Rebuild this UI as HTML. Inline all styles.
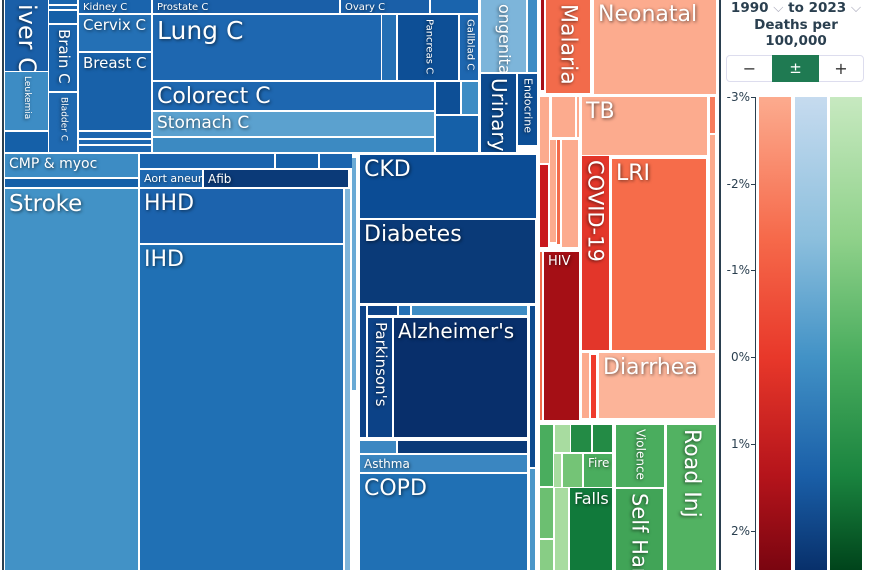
<!DOCTYPE html>
<html><head><meta charset="utf-8">
<style>
body{margin:0;width:870px;height:570px;overflow:hidden;background:#fff;font-family:"DejaVu Sans","Liberation Sans",sans-serif;position:relative}
.c{position:absolute;box-sizing:border-box;overflow:hidden;color:#fff;text-shadow:1px 1px 3px rgba(0,0,0,.6);line-height:1.05}
.c span{position:absolute;left:4px;top:3px;white-space:nowrap}
.c span.v{writing-mode:vertical-rl;left:auto;right:2px;top:4px}
.t{position:absolute;color:#2a3f4f;font-weight:bold;font-size:13.5px;text-align:center;white-space:nowrap}
.tk{position:absolute;font-size:12px;color:#2a3f4f;right:120px;width:40px;text-align:right}
</style></head><body>
<div style="position:absolute;left:2px;top:0;width:2px;height:570px;background:#2a3f4f"></div>
<div style="position:absolute;left:719px;top:0;width:2px;height:570px;background:#2a3f4f"></div>
<div id="tm"></div>
<div class="t" style="left:728px;top:0;width:136px">1990 <span style="color:#aab;font-weight:normal">⌵</span> to 2023 <span style="color:#aab;font-weight:normal">⌵</span></div>
<div class="t" style="left:728px;top:17px;width:136px;line-height:16px">Deaths per<br>100,000</div>
<div style="position:absolute;left:726px;top:55px;width:138px;height:27px;border:1px solid #dde;border-radius:4px;box-sizing:border-box"></div>
<div style="position:absolute;left:727px;top:56px;width:45px;height:25px;text-align:center;line-height:25px;font-size:16px;color:#333">−</div>
<div style="position:absolute;left:772px;top:55px;width:47px;height:27px;background:#1f7a52;color:#fff;text-align:center;line-height:27px;font-size:15px">±</div>
<div style="position:absolute;left:819px;top:56px;width:44px;height:25px;text-align:center;line-height:25px;font-size:16px;color:#333">+</div>
<div style="position:absolute;left:755px;top:97px;width:1px;height:473px;background:#2a3f4f"></div>
<div id="lg"></div>
<script>
const cells=[
["liver-c",5,0,48,71,"#1a5fa8","iver C",24,1],
["leukemia",5,72,48,130,"#3d8cc4","Leukemia",9,1],
["cancer-other-1",5,132,48,152,"#1560a8","",0,0],
["cancer-small-1",49,0,77,4,"#1a64ad","",0,0],
["cancer-small-2",49,6,77,9,"#1a64ad","",0,0],
["cancer-small-3",49,11,77,23,"#1560a8","",0,0],
["brain-c",49,25,77,91,"#1a64ad","Brain C",15,1],
["bladder-c",49,93,77,152,"#1f69b1","Bladder C",9,1],
["kidney-c",79,0,151,13,"#1a64ad","Kidney C",10,0],
["cervix-c",79,15,151,51,"#2470b5","Cervix C",15,0],
["breast-c",79,53,151,130,"#1861a9","Breast C",15,0],
["cancer-small-4",79,132,151,138,"#1e67b0","",0,0],
["cancer-small-5",79,140,151,144,"#1e67b0","",0,0],
["cancer-small-6",79,146,151,152,"#1e67b0","",0,0],
["prostate-c",153,0,339,13,"#1a5fa8","Prostate C",10,0],
["ovary-c",341,0,429,13,"#1a5fa8","Ovary C",10,0],
["cancer-small-7",431,0,478,13,"#1a64ad","",0,0],
["lung-c",153,15,381,80,"#1e67b0","Lung C",25,0],
["cancer-small-8",382,15,396,80,"#2470b5","",0,0],
["pancreas-c",398,15,458,80,"#0d4f96","Pancreas C",10,1],
["gallblad-c",460,15,478,80,"#1e67b0","Gallblad C",10,1],
["colorect-c",153,82,434,110,"#1e67b0","Colorect C",22,0],
["cancer-small-9",436,82,460,114,"#0d4f96","",0,0],
["cancer-small-10",462,82,478,114,"#3d8cc4","",0,0],
["stomach-c",153,112,434,136,"#5ba1cf","Stomach C",17,0],
["cancer-small-11",153,138,434,152,"#3c8ac2","",0,0],
["cancer-small-12",436,116,478,152,"#1560a8","",0,0],
["congenital",481,0,526,72,"#7db5da","ongenital",16,1],
["other-ncd-1",528,0,537,72,"#3d8cc4","",0,0],
["urinary",481,74,516,152,"#0c4a8f","Urinary",20,1],
["endocrine",518,74,537,145,"#0d4f96","Endocrine",11,1],
["cmp-myoc",5,154,138,177,"#3d8cc4","CMP &amp; myoc",14,0],
["cardio-small-1",5,179,138,187,"#1560a8","",0,0],
["cardio-small-2",140,154,274,168,"#1a64ad","",0,0],
["cardio-small-3",276,154,318,168,"#1560a8","",0,0],
["cardio-small-4",320,154,352,168,"#1a64ad","",0,0],
["aort-aneur",140,170,202,187,"#1f69b1","Aort aneur",11,0],
["afib",204,170,348,187,"#0b3a78","Afib",12,0],
["stroke",5,189,138,570,"#4292c6","Stroke",23,0],
["hhd",140,189,343,243,"#1c63ad","HHD",22,0],
["ihd",140,245,343,570,"#2070b4","IHD",22,0],
["cardio-strip-1",345,189,350,570,"#7fb5da","",0,0],
["cardio-strip-2",352,158,356,390,"#6aaad5","",0,0],
["ckd",360,155,536,218,"#0b4c95","CKD",22,0],
["diabetes",360,220,535,303,"#0a3a78","Diabetes",22,0],
["neuro-strip",360,306,366,437,"#0c4287","",0,0],
["neuro-small-1",368,306,397,315,"#0c4287","",0,0],
["neuro-small-2",399,306,410,315,"#2470b5","",0,0],
["neuro-small-3",412,306,527,315,"#3d8cc4","",0,0],
["parkinsons",368,318,392,437,"#0c4287","Parkinson's",15,1],
["alzheimers",394,318,527,437,"#082f6b","Alzheimer's",20,0],
["other-strip-1",530,306,535,467,"#0c4a8f","",0,0],
["resp-small-1",360,441,396,453,"#3b87c2","",0,0],
["resp-small-2",398,441,527,453,"#0b3a78","",0,0],
["asthma",360,455,527,472,"#3a86c1","Asthma",12,0],
["copd",360,474,527,570,"#2070b4","COPD",22,0],
["other-strip-2",530,469,535,570,"#4a96c9","",0,0],
["comm-strip-1",541,0,544,90,"#a50f15","",0,0],
["malaria",546,0,590,93,"#f26b4b","Malaria",22,1],
["neonatal",594,0,716,94,"#fcab8e","Neonatal",22,0],
["comm-small-1",540,97,549,163,"#fcab8e","",0,0],
["comm-small-2",552,97,575,137,"#fcab8e","",0,0],
["comm-small-3",577,97,579,137,"#fcab8e","",0,0],
["tb",582,97,707,155,"#fcab8e","TB",22,0],
["comm-small-4",710,97,715,133,"#f77c5c","",0,0],
["comm-small-5",710,135,715,350,"#fcab8e","",0,0],
["comm-small-6",540,165,548,247,"#c9181d","",0,0],
["comm-small-7",550,140,556,242,"#fcab8e","",0,0],
["comm-small-8",557,140,560,244,"#f26b4b","",0,0],
["comm-small-9",562,140,578,247,"#fcab8e","",0,0],
["covid-19",582,156,609,350,"#e3362a","COVID-19",21,1],
["lri",612,159,706,350,"#f66c4a","LRI",22,0],
["comm-strip-2",540,252,542,420,"#f26b4b","",0,0],
["hiv",544,252,579,420,"#a50f15","HIV",13,0],
["comm-small-10",582,353,589,418,"#fcab8e","",0,0],
["comm-small-11",591,355,596,418,"#ef3b2c","",0,0],
["diarrhea",599,353,715,418,"#fcb499","Diarrhea",22,0],
["inj-small-1",540,425,553,486,"#4aad5e","",0,0],
["inj-small-2",555,425,570,452,"#a8dca0","",0,0],
["inj-small-3",571,425,591,452,"#238b45","",0,0],
["inj-small-4",593,425,612,452,"#238b45","",0,0],
["inj-small-5",554,454,561,487,"#a8dca0","",0,0],
["inj-small-6",563,454,582,487,"#74c476","",0,0],
["fire",584,454,612,487,"#4aad5e","Fire",12,0],
["inj-small-7",540,488,553,538,"#6cbf71","",0,0],
["inj-small-8",540,540,553,570,"#88cd85","",0,0],
["inj-small-9",555,488,568,570,"#a8dca0","",0,0],
["falls",570,488,612,570,"#117a3b","Falls",16,0],
["violence",616,425,664,487,"#4aad5e","Violence",12,1],
["self-harm",616,489,663,570,"#41a457","Self Harm",21,1],
["road-inj",667,425,716,570,"#52b262","Road Inj",22,1]
];
const tm=document.getElementById('tm');
for(const c of cells){
 const [name,x1,y1,x2,y2,col,label,fs,vert]=c;
 const el=document.createElement('div');
 el.className='c';
 
 
 el.style.cssText=`left:${x1}px;top:${y1}px;width:${x2-x1}px;height:${y2-y1}px;background:${col}`;
 if(label){
  const s=document.createElement('span');
  if(vert){s.className='v';s.style.left='50%';s.style.right='auto';s.style.transform='translateX(-50%)';}
  s.style.fontSize=fs+'px';
  s.innerHTML=label;
  el.appendChild(s);
 }
 tm.appendChild(el);
}
const tickLabels=["-3%","-2%","-1%","0%","1%","2%"];
const tickPos=[-3,-2,-1,0,1,2];
const ax=v=>97+(v+3)*86.7;
const lg=document.getElementById('lg');
tickLabels.forEach((t,i)=>{
 const d=document.createElement('div');
 d.className='tk';
 
 
 d.style.left='710px';d.style.top=(ax(tickPos[i])-7)+'px';
 d.textContent=t;
 lg.appendChild(d);
 const m=document.createElement('div');
 
 
 m.style.cssText=`position:absolute;left:751px;top:${ax(tickPos[i])}px;width:4px;height:1px;background:#2a3f4f`;
 lg.appendChild(m);
});
const bars=[["red-scale",759,"#fcab8e","#f6694a","#e8382a","#b5141b","#7a0510"],["blue-scale",795,"#c6dbef","#8cbfdd","#4292c6","#1a5fa8","#08306b"],["green-scale",830,"#c7e9c0","#8fd18a","#4aad5e","#1a843f","#00441b"]];
for(const b of bars){
 const d=document.createElement('div');
 
 
 d.style.cssText=`position:absolute;left:${b[1]}px;top:97px;width:32px;height:473px;background:linear-gradient(${b[2]},${b[3]} 30%,${b[4]} 55%,${b[5]} 80%,${b[6]})`;
 lg.appendChild(d);
}
</script>
</body></html>
